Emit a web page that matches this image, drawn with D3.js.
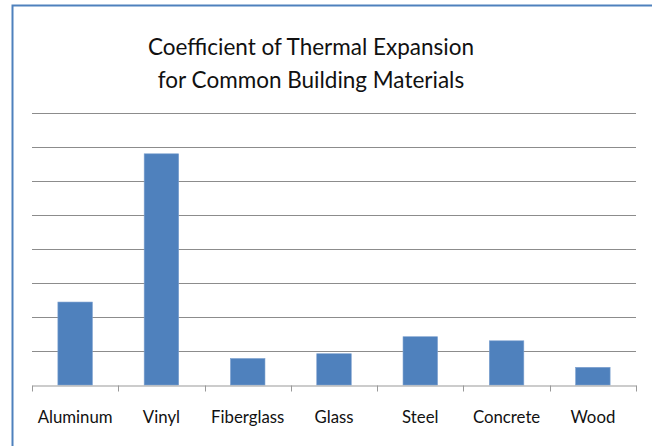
<!DOCTYPE html>
<html>
<head>
<meta charset="utf-8">
<script src="https://cdn.jsdelivr.net/npm/d3@7"></script>
<style>
	body { margin: 0; background: #fff; }
	svg { display: block; }
</style>
</head>
<body>
<div id="chart"></div>
<script>
const materials = ["Aluminum", "Vinyl", "Fiberglass", "Glass", "Steel", "Concrete", "Wood"];
const coefficients = [12.2, 34, 3.9, 4.6, 7.1, 6.5, 2.6];
const gridTicks = [0, 5, 10, 15, 20, 25, 30, 35, 40];
const titleLines = ["Coefficient of Thermal Expansion", "for Common Building Materials"];

const
	width = 652,
	height = 446,
	margin = { top: 113, right: 16, bottom: 61, left: 32 };

const svg = d3.select("#chart")
	.append("svg")
	.attr("width", width)
	.attr("height", height);

// outer chart frame (only top and left edges are visible)
svg.append("rect")
	.attr("x", 12.5)
	.attr("y", 5.5)
	.attr("width", width + 20)
	.attr("height", height + 20)
	.attr("fill", "white")
	.attr("stroke", "#4f81bd")
	.attr("stroke-width", 2);

const x = d3.scaleBand()
	.domain(materials)
	.range([margin.left, width - margin.right])
	.paddingInner(0.6)
	.paddingOuter(0.3);

const y = d3.scaleLinear()
	.domain([0, 40])
	.range([height - margin.bottom, margin.top]);

// title
svg.append("text")
	.attr("x", 311)
	.attr("y", 55)
	.attr("text-anchor", "middle")
	.style("font-family", "Lato, 'Open Sans', sans-serif")
	.style("font-size", "22.5px")
	.style("fill", "#111")
	.selectAll("tspan")
	.data(titleLines)
	.enter()
	.append("tspan")
	.attr("x", 311)
	.attr("dy", (d, i) => i === 0 ? 0 : 33)
	.text(d => d);

// gridlines
svg.append("g")
	.selectAll("line")
	.data(gridTicks.slice(1))
	.enter()
	.append("line")
	.attr("x1", margin.left)
	.attr("x2", width - margin.right)
	.attr("y1", d => Math.round(y(d)) + 0.5)
	.attr("y2", d => Math.round(y(d)) + 0.5)
	.attr("stroke", "#8c8c8c")
	.attr("stroke-width", 1);

// bars
svg.append("g")
	.selectAll("rect")
	.data(coefficients)
	.enter()
	.append("rect")
	.attr("x", (d, i) => x(materials[i]))
	.attr("y", d => y(d))
	.attr("width", x.bandwidth())
	.attr("height", d => y(0) - y(d))
	.attr("fill", "#4f81bd")
	.attr("stroke", "#7da1cf")
	.attr("stroke-width", 0.6);

// category axis
const xAxis = d3.axisBottom(x).tickSize(0).tickPadding(26);
const axisG = svg.append("g")
	.attr("transform", `translate(0, ${Math.round(y(0)) + 0.5})`)
	.call(xAxis);
axisG.select(".domain").attr("stroke", "#999");
axisG.selectAll("text")
	.style("font-family", "Lato, 'Open Sans', sans-serif")
	.style("font-size", "16.8px")
	.style("fill", "#111");

// tick marks between categories
const bounds = d3.range(materials.length + 1).map(i => margin.left + i * (width - margin.left - margin.right) / materials.length);
axisG.selectAll(".sep")
	.data(bounds)
	.enter()
	.append("line")
	.attr("class", "sep")
	.attr("x1", d => Math.round(d) + 0.5)
	.attr("x2", d => Math.round(d) + 0.5)
	.attr("y1", 0)
	.attr("y2", 6)
	.attr("stroke", "#999");
</script>
</body>
</html>
